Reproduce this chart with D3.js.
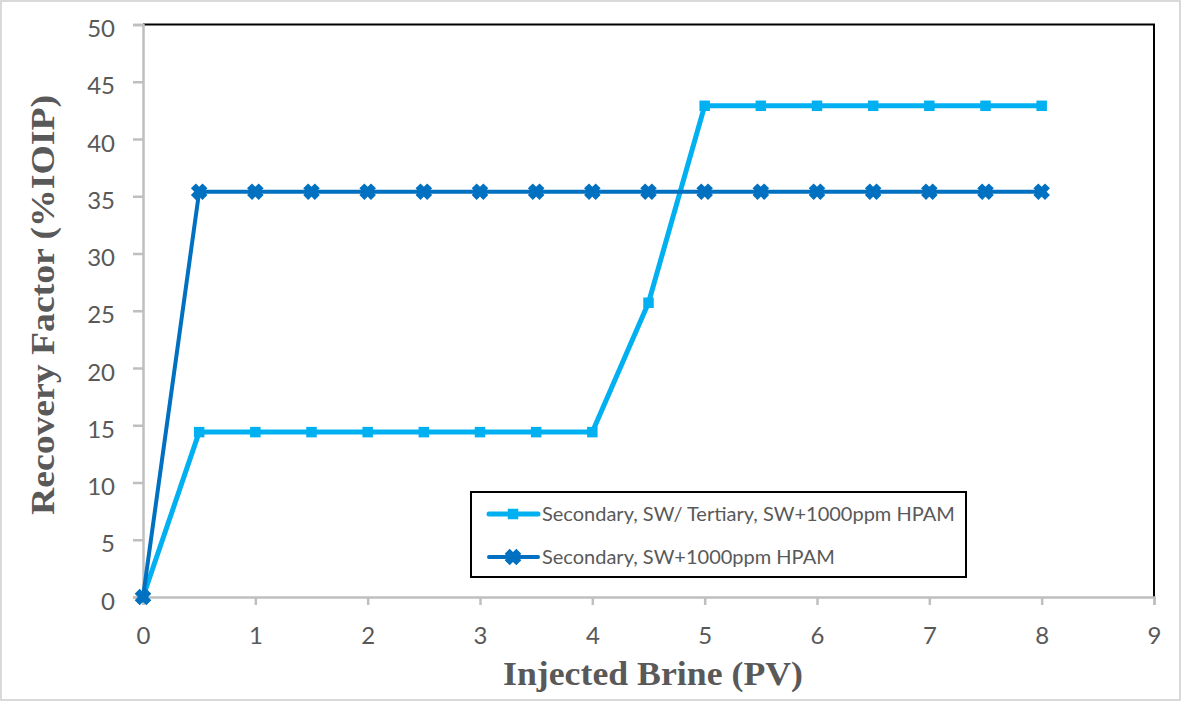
<!DOCTYPE html>
<html>
<head>
<meta charset="utf-8">
<script src="https://cdn.jsdelivr.net/npm/d3@7"></script>
<style>
	body { margin: 0; background: #fff; }
	svg { display: block; }
</style>
</head>
<body>
<div id="chart"></div>
<script>
// Data
const injected = [0, 0.5, 1, 1.5, 2, 2.5, 3, 3.5, 4, 4.5, 5, 5.5, 6, 6.5, 7, 7.5, 8];
const tertiaryRF = [0, 14.4, 14.4, 14.4, 14.4, 14.4, 14.4, 14.4, 14.4, 25.7, 42.9, 42.9, 42.9, 42.9, 42.9, 42.9, 42.9];
const secondaryRF = [0, 35.4, 35.4, 35.4, 35.4, 35.4, 35.4, 35.4, 35.4, 35.4, 35.4, 35.4, 35.4, 35.4, 35.4, 35.4, 35.4];
const seriesNames = ['Secondary, SW/ Tertiary, SW+1000ppm HPAM', 'Secondary, SW+1000ppm HPAM'];
const xTicks = [0, 1, 2, 3, 4, 5, 6, 7, 8, 9];
const yTicks = [0, 5, 10, 15, 20, 25, 30, 35, 40, 45, 50];

const W = 1182, H = 719;
const plot = { left: 143, right: 1154, top: 24.5, bottom: 597 };
const lightBlue = '#00b0f0', darkBlue = '#0070c0';
const axisGray = '#bfbfbf', textGray = '#595959';

const svg = d3.select('#chart').append('svg').attr('width', W).attr('height', H);

// outer frame
svg.append('rect')
	.attr('x', 1).attr('y', 1).attr('width', 1179).attr('height', 699)
	.attr('fill', '#fff').attr('stroke', '#d9d9d9').attr('stroke-width', 2);

const x = d3.scaleLinear().domain([0, 9]).range([plot.left, plot.right]);
const y = d3.scaleLinear().domain([0, 50]).range([plot.bottom, plot.top]);

// plot area border (top and right black)
svg.append('path')
	.attr('d', `M${plot.left},${plot.top}H${plot.right}V${plot.bottom}`)
	.attr('fill', 'none').attr('stroke', '#000').attr('stroke-width', 2);

// axes
const xAxis = svg.append('g')
	.attr('transform', `translate(0,${plot.bottom})`)
	.call(d3.axisBottom(x).tickValues(xTicks).tickSize(8).tickPadding(22).tickFormat(d3.format('d')));
const yAxis = svg.append('g')
	.attr('transform', `translate(${plot.left},0)`)
	.call(d3.axisLeft(y).tickValues(yTicks).tickSize(10).tickPadding(18).tickFormat(d3.format('d')));

[xAxis, yAxis].forEach((g) => {
	g.select('.domain').attr('stroke', axisGray).attr('stroke-width', 2.5);
	g.selectAll('.tick line').attr('stroke', axisGray).attr('stroke-width', 2.5);
	g.selectAll('.tick text')
		.attr('fill', textGray)
		.style('font-family', 'Lato, "Open Sans", sans-serif')
		.style('font-size', '24px');
});
yAxis.selectAll('.tick text').attr('dy', '0.5em');

// lines
const line = d3.line().x((d) => x(d[0])).y((d) => y(d[1]));
const tertiaryPts = injected.map((v, i) => [v, tertiaryRF[i]]);
const secondaryPts = injected.map((v, i) => [v, secondaryRF[i]]);

svg.append('path').datum(tertiaryPts).attr('d', line)
	.attr('fill', 'none').attr('stroke', lightBlue).attr('stroke-width', 5).attr('stroke-linejoin', 'round');
svg.append('path').datum(secondaryPts).attr('d', line)
	.attr('fill', 'none').attr('stroke', darkBlue).attr('stroke-width', 4).attr('stroke-linejoin', 'round');

// markers
const squareSym = d3.symbol().type(d3.symbolSquare).size(110);
const crossSym = d3.symbol().type(d3.symbolX).size(90);

function drawSquare(g, px, py) {
	g.append('path').attr('d', squareSym()).attr('transform', `translate(${px},${py})`)
		.attr('fill', lightBlue);
}
function drawCross(g, px, py) {
	g.append('path').attr('d', crossSym()).attr('transform', `translate(${px},${py})`)
		.attr('fill', darkBlue).attr('stroke', darkBlue).attr('stroke-width', 7).attr('stroke-linejoin', 'round');
}

const marks = svg.append('g');
tertiaryPts.forEach((d) => drawSquare(marks, x(d[0]), y(d[1])));
secondaryPts.forEach((d) => drawCross(marks, x(d[0]), y(d[1])));

// legend
const lg = svg.append('g');
lg.append('rect')
	.attr('x', 471).attr('y', 492).attr('width', 495).attr('height', 85)
	.attr('fill', '#fff').attr('stroke', '#000').attr('stroke-width', 2);
const rows = [
	{ name: seriesNames[0], color: lightBlue, w: 5, cy: 514, sym: drawSquare },
	{ name: seriesNames[1], color: darkBlue, w: 4, cy: 557, sym: drawCross },
];
rows.forEach((r) => {
	lg.append('line').attr('x1', 489).attr('x2', 538).attr('y1', r.cy).attr('y2', r.cy)
		.attr('stroke', r.color).attr('stroke-width', r.w).attr('stroke-linecap', 'round');
	r.sym(lg, 513, r.cy);
	lg.append('text').attr('x', 542).attr('y', r.cy).attr('dy', '0.36em')
		.attr('fill', textGray)
		.style('font-family', 'Lato, "Open Sans", sans-serif')
		.style('font-size', '20px')
		.text(r.name);
});

// axis titles
svg.append('text')
	.attr('x', 653).attr('y', 685)
	.attr('text-anchor', 'middle')
	.attr('fill', textGray)
	.style('font-family', '"Liberation Serif", "DejaVu Serif", serif')
	.style('font-weight', 'bold').style('font-size', '34px')
	.attr('textLength', 300).attr('lengthAdjust', 'spacingAndGlyphs')
	.text('Injected Brine (PV)');
svg.append('text')
	.attr('transform', 'translate(54,305) rotate(-90)')
	.attr('text-anchor', 'middle')
	.attr('fill', textGray)
	.style('font-family', '"Liberation Serif", "DejaVu Serif", serif')
	.style('font-weight', 'bold').style('font-size', '34px')
	.attr('textLength', 420).attr('lengthAdjust', 'spacingAndGlyphs')
	.text('Recovery Factor (%IOIP)');
</script>
</body>
</html>
